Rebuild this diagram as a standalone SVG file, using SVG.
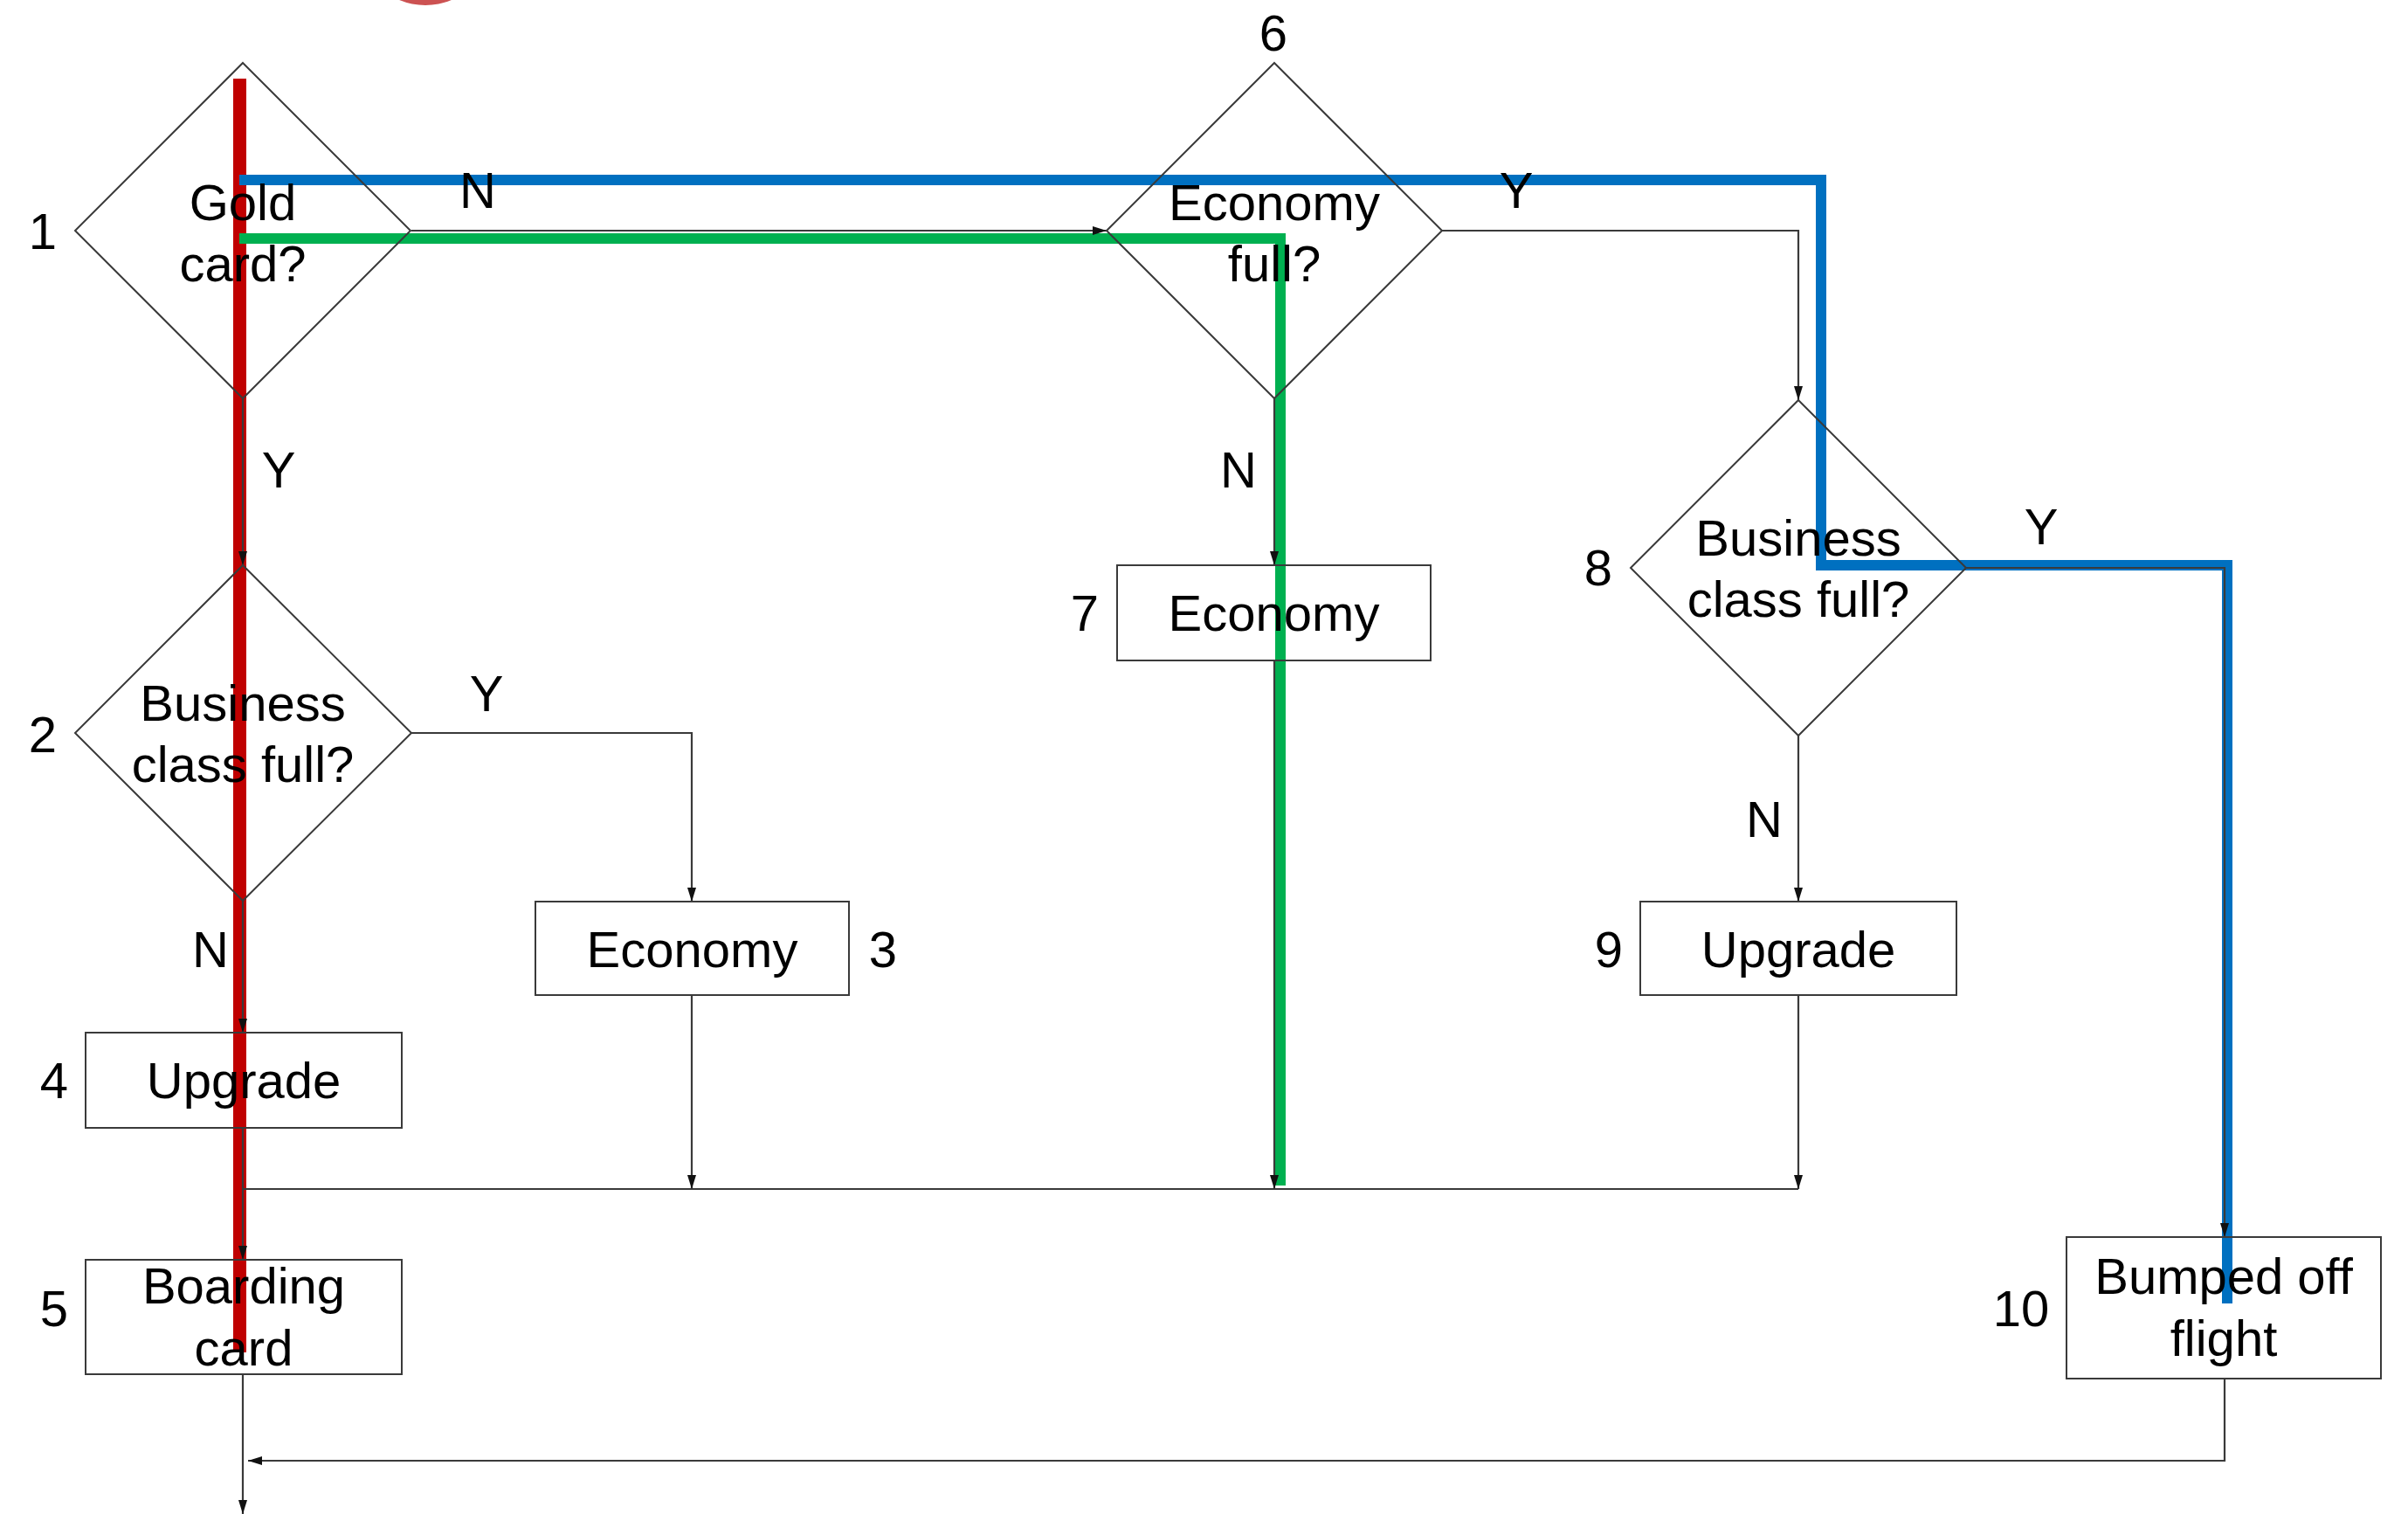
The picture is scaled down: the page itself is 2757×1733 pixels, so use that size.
<svg xmlns="http://www.w3.org/2000/svg" width="2757" height="1733" viewBox="0 0 2757 1733">
<defs>
<marker id="arr" viewBox="0 0 16 10" markerWidth="16" markerHeight="10" refX="16" refY="5" orient="auto" markerUnits="userSpaceOnUse">
<path d="M0,0 L16,5 L0,10 z" fill="#111"/>
</marker>
<style>
.shape{fill:none;stroke:#3a3a3a;stroke-width:2}
.conn{fill:none;stroke:#3a3a3a;stroke-width:2.2}
.arr{marker-end:url(#arr)}
.t{font-family:"Liberation Sans",Arial,sans-serif;font-size:58px;fill:#000;text-anchor:middle}
.hl{fill:none;stroke-linejoin:miter;stroke-linecap:butt}
</style>
</defs>
<rect x="0" y="0" width="2757" height="1733" fill="#fff"/>
<circle cx="487" cy="-72" r="78" fill="#cc5252"/>
<g id="highlights">
<path class="hl" d="M274.5,90 V1548" stroke="#c00000" stroke-width="15"/>
<path class="hl" d="M274,206 H2085 V647 H2550 V1492" stroke="#0070c0" stroke-width="12"/>
<path class="hl" d="M274,273 H1466 V1357" stroke="#00b050" stroke-width="12"/>
</g>
<g id="connectors">
<path class="conn arr" d="M471,264 H1267"/>
<path class="conn arr" d="M1651,264 H2059 V458"/>
<path class="conn arr" d="M1459,456 V647"/>
<path class="conn arr" d="M278,456 V647"/>
<path class="conn arr" d="M471,839 H792 V1032"/>
<path class="conn arr" d="M278,1031 V1182"/>
<path class="conn arr" d="M278,1291 V1442"/>
<path class="conn" d="M278,1361 H2059"/>
<path class="conn arr" d="M792,1139 V1361"/>
<path class="conn arr" d="M1459,756 V1361"/>
<path class="conn arr" d="M2059,1139 V1361"/>
<path class="conn arr" d="M2059,842 V1032"/>
<path class="conn arr" d="M2251,650 H2547 V1416"/>
<path class="conn arr" d="M2547,1578 V1672 H284"/>
<path class="conn arr" d="M278,1573 V1733"/>
<text class="t" x="547" y="238">N</text>
<text class="t" x="1736" y="238">Y</text>
<text class="t" x="319" y="558">Y</text>
<text class="t" x="1418" y="558">N</text>
<text class="t" x="557" y="814">Y</text>
<text class="t" x="241" y="1107">N</text>
<text class="t" x="2337" y="623">Y</text>
<text class="t" x="2020" y="958">N</text>
</g>
<g id="n1">
<polygon class="shape" points="278,72 470,264 278,456 86,264"/>
<text class="t" x="278" y="252">Gold</text>
<text class="t" x="278" y="322">card?</text>
<text class="t" x="49" y="285">1</text>
</g>
<g id="n2">
<polygon class="shape" points="278,647 471,839 278,1031 86,839"/>
<text class="t" x="278" y="825">Business</text>
<text class="t" x="278" y="895">class full?</text>
<text class="t" x="49" y="861">2</text>
</g>
<g id="n3">
<rect class="shape" x="613" y="1032" width="359" height="107"/>
<text class="t" x="792.5" y="1107">Economy</text>
<text class="t" x="1011" y="1107">3</text>
</g>
<g id="n4">
<rect class="shape" x="98" y="1182" width="362" height="109"/>
<text class="t" x="279" y="1257">Upgrade</text>
<text class="t" x="62" y="1257">4</text>
</g>
<g id="n5">
<rect class="shape" x="98" y="1442" width="362" height="131"/>
<text class="t" x="279" y="1492">Boarding</text>
<text class="t" x="279" y="1563">card</text>
<text class="t" x="62" y="1518">5</text>
</g>
<g id="n6">
<polygon class="shape" points="1459,72 1651,264 1459,456 1267,264"/>
<text class="t" x="1459" y="252">Economy</text>
<text class="t" x="1459" y="322">full?</text>
<text class="t" x="1458" y="58">6</text>
</g>
<g id="n7">
<rect class="shape" x="1279" y="647" width="359" height="109"/>
<text class="t" x="1458.5" y="722">Economy</text>
<text class="t" x="1242" y="722">7</text>
</g>
<g id="n8">
<polygon class="shape" points="2059,458 2251,650 2059,842 1867,650"/>
<text class="t" x="2059" y="636">Business</text>
<text class="t" x="2059" y="706">class full?</text>
<text class="t" x="1830" y="670">8</text>
</g>
<g id="n9">
<rect class="shape" x="1878" y="1032" width="362" height="107"/>
<text class="t" x="2059" y="1107">Upgrade</text>
<text class="t" x="1842" y="1107">9</text>
</g>
<g id="n10">
<rect class="shape" x="2366" y="1416" width="360" height="162"/>
<text class="t" x="2546" y="1481">Bumped off</text>
<text class="t" x="2546" y="1552">flight</text>
<text class="t" x="2314" y="1518">10</text>
</g>
</svg>
